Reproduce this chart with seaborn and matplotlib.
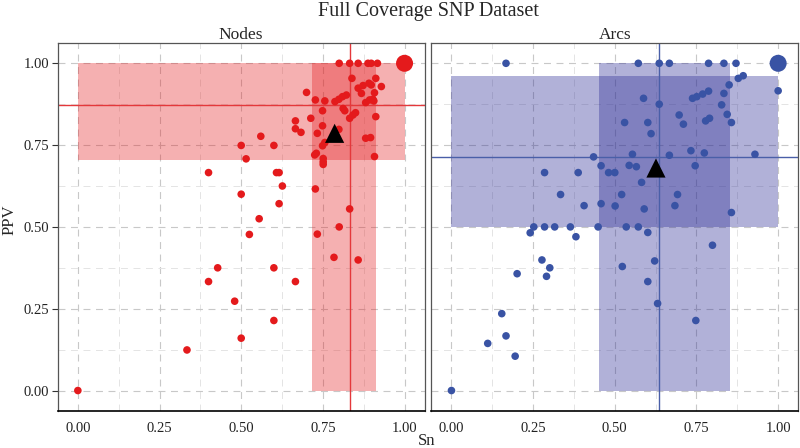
import matplotlib
matplotlib.use("Agg")
import matplotlib.pyplot as plt
import matplotlib.patches as mpatches
from matplotlib.ticker import MultipleLocator
import seaborn as sns
import pandas as pd

# per-structure sensitivity / PPV
nodes_sn = [0.80, 0.832, 0.858, 0.888, 0.898, 0.917, 0.839, 0.912, 0.858, 0.873,
            0.891, 0.898, 0.929, 0.868, 0.908, 0.700, 0.727, 0.756, 0.787, 0.799,
            0.810, 0.822, 0.881, 0.893, 0.903, 0.906, 0.812, 0.817, 0.749, 0.832,
            0.842, 0.850, 0.912, 0.713, 0.666, 0.666, 0.683, 0.749, 0.799, 0.733,
            0.881, 0.896, 0.756, 0.749, 0.730, 0.725, 0.751, 0.751, 0.751, 0.908,
            0.50, 0.515, 0.56, 0.60, 0.40, 0.608, 0.616, 0.626, 0.50, 0.727,
            0.616, 0.555, 0.832, 0.80, 0.733, 0.525, 0.784, 0.858, 0.428, 0.60,
            0.40, 0.666, 0.48, 0.60, 0.50, 0.334, 0.0]
nodes_ppv = [1.0, 1.0, 1.0, 1.0, 1.0, 1.0, 0.954, 0.954, 0.924, 0.932,
             0.939, 0.934, 0.929, 0.908, 0.910, 0.911, 0.888, 0.885, 0.883, 0.890,
             0.898, 0.903, 0.880, 0.888, 0.890, 0.885, 0.862, 0.855, 0.855, 0.832,
             0.842, 0.849, 0.837, 0.832, 0.824, 0.800, 0.789, 0.809, 0.798, 0.786,
             0.771, 0.773, 0.758, 0.748, 0.725, 0.720, 0.709, 0.699, 0.691, 0.715,
             0.749, 0.708, 0.777, 0.749, 0.666, 0.666, 0.666, 0.625, 0.60, 0.616,
             0.571, 0.525, 0.555, 0.50, 0.478, 0.477, 0.407, 0.399, 0.375, 0.375,
             0.333, 0.333, 0.273, 0.214, 0.160, 0.124, 0.0]

arcs_sn = [0.167, 0.572, 0.636, 0.667, 0.787, 0.834, 0.871, 0.878, 0.893, 0.850,
           1.0, 0.738, 0.751, 0.769, 0.787, 0.834, 0.588, 0.636, 0.827, 0.844,
           0.697, 0.710, 0.857, 0.778, 0.790, 0.530, 0.601, 0.611, 0.435, 0.554,
           0.667, 0.733, 0.774, 0.929, 0.458, 0.544, 0.566, 0.746, 0.285, 0.388,
           0.481, 0.500, 0.582, 0.334, 0.521, 0.692, 0.406, 0.458, 0.501, 0.590,
           0.684, 0.857, 0.252, 0.241, 0.285, 0.316, 0.364, 0.381, 0.449, 0.535,
           0.572, 0.601, 0.799, 0.277, 0.301, 0.291, 0.201, 0.523, 0.622, 0.601,
           0.631, 0.748, 0.154, 0.167, 0.111, 0.195, 0.0]
arcs_ppv = [1.0, 1.0, 1.0, 1.0, 1.0, 1.0, 1.0, 0.954, 0.962, 0.934,
            0.916, 0.893, 0.898, 0.906, 0.915, 0.908, 0.893, 0.875, 0.873, 0.844,
            0.842, 0.814, 0.819, 0.824, 0.832, 0.819, 0.819, 0.785, 0.714, 0.722,
            0.719, 0.733, 0.726, 0.722, 0.687, 0.688, 0.684, 0.687, 0.666, 0.666,
            0.666, 0.666, 0.636, 0.599, 0.599, 0.599, 0.565, 0.571, 0.564, 0.555,
            0.565, 0.544, 0.50, 0.482, 0.50, 0.50, 0.50, 0.470, 0.50, 0.50,
            0.50, 0.483, 0.444, 0.399, 0.375, 0.349, 0.357, 0.379, 0.396, 0.333,
            0.266, 0.214, 0.235, 0.167, 0.144, 0.105, 0.0]

panels = ["Nodes", "Arcs"]
point_colors = ["#E41A1C", "#3953A4"]
line_colors = ["#E4383B", "#4A5FA8"]
band_colors = ["#E41A1C", "#2D2D96"]
band_alpha = [0.34, 0.37]

# summary per panel: mean point, reference lines, spread bands
mean_sn = [0.786, 0.626]
mean_ppv = [0.786, 0.680]
line_sn = [0.832, 0.636]
line_ppv = [0.873, 0.714]
sn_band = [(0.718, 0.913), (0.453, 0.854)]
ppv_band = [(0.706, 1.0), (0.50, 0.962)]
sn_range = [(0.0, 1.0), (0.0, 1.0)]
ppv_range = [(0.0, 1.0), (0.0, 1.0)]
perfect = (1.0, 1.0)

df = pd.concat([
    pd.DataFrame({"Sn": nodes_sn, "PPV": nodes_ppv, "type": "Nodes"}),
    pd.DataFrame({"Sn": arcs_sn, "PPV": arcs_ppv, "type": "Arcs"}),
])

sns.set_theme(style="white")
plt.rcParams["font.family"] = ["Liberation Serif", "DejaVu Serif"]
plt.rcParams["lines.scale_dashes"] = False

fig = plt.figure(figsize=(8, 4.48), dpi=100)
fig.suptitle("Full Coverage SNP Dataset", x=0.535, y=0.995, fontsize=14.5)

lefts = [0.072, 0.539]
for i, name in enumerate(panels):
    ax = fig.add_axes([lefts[i], 0.083, 0.459, 0.821])
    sub = df[df["type"] == name]

    ax.set_xlim(-0.062, 1.062)
    ax.set_ylim(-0.062, 1.062)
    ax.xaxis.set_major_locator(MultipleLocator(0.25))
    ax.yaxis.set_major_locator(MultipleLocator(0.25))
    ax.xaxis.set_minor_locator(MultipleLocator(0.125))
    ax.yaxis.set_minor_locator(MultipleLocator(0.125))
    ax.grid(True, which="major", color="#C8C8C8", linestyle=(0, (5, 4)), linewidth=0.8)
    ax.grid(True, which="minor", color="#E4E4E4", linestyle=(0, (5, 4)), linewidth=0.7)
    ax.set_axisbelow(True)

    # horizontal band (PPV spread) and vertical band (Sn spread)
    ax.add_patch(mpatches.Rectangle((sn_range[i][0], ppv_band[i][0]),
                                    sn_range[i][1] - sn_range[i][0],
                                    ppv_band[i][1] - ppv_band[i][0],
                                    facecolor=band_colors[i], alpha=band_alpha[i],
                                    linewidth=0, zorder=1))
    ax.add_patch(mpatches.Rectangle((sn_band[i][0], ppv_range[i][0]),
                                    sn_band[i][1] - sn_band[i][0],
                                    ppv_range[i][1] - ppv_range[i][0],
                                    facecolor=band_colors[i], alpha=band_alpha[i],
                                    linewidth=0, zorder=1))
    ax.axvline(line_sn[i], color=line_colors[i], linewidth=1.0, zorder=2)
    ax.axhline(line_ppv[i], color=line_colors[i], linewidth=1.0, zorder=2)

    sns.scatterplot(data=sub, x="Sn", y="PPV", color=point_colors[i], s=30,
                    edgecolor="none", ax=ax, zorder=3)
    ax.scatter([perfect[0]], [perfect[1]], s=150, color=point_colors[i],
               edgecolor="none", zorder=3)
    ax.scatter([mean_sn[i]], [mean_ppv[i]], marker="^", s=190, color="black",
               edgecolor="none", zorder=4)

    ax.set_title(name, fontsize=12.5, pad=3)
    ax.set_xlabel("")
    ax.set_ylabel("")
    ax.set_xticks([0, 0.25, 0.5, 0.75, 1.0])
    ax.set_xticklabels(["0.00", "0.25", "0.50", "0.75", "1.00"])
    ax.tick_params(axis="both", which="major", direction="out", length=4,
                   width=0.8, color="#333333", labelsize=10.5, pad=2, labelcolor="#222222")
    ax.tick_params(axis="both", which="minor", length=0)
    ax.tick_params(axis="x", pad=4)
    if i == 0:
        ax.set_yticks([0, 0.25, 0.5, 0.75, 1.0])
        ax.set_yticklabels(["0.00", "0.25", "0.50", "0.75", "1.00"])
        ax.tick_params(axis="y", left=True)
    else:
        ax.tick_params(axis="y", left=False, labelleft=False)

    for side, sp in ax.spines.items():
        sp.set_visible(True)
        sp.set_color("#555555")
        sp.set_linewidth(0.9)
    ax.spines["bottom"].set_color("black")
    ax.spines["bottom"].set_linewidth(1.2)

fig.text(0.533, 0.015, "Sn", ha="center", va="center", fontsize=12)
fig.text(0.012, 0.51, "PPV", ha="center", va="center", rotation=90, fontsize=12)

fig.savefig("out.png", dpi=100)
